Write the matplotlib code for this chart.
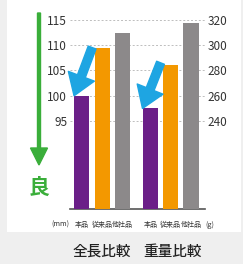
import matplotlib
matplotlib.use('Agg')
import matplotlib.pyplot as plt
from matplotlib.patches import Rectangle, FancyArrow

plt.rcParams['font.family'] = ['Noto Sans CJK JP', 'DejaVu Sans']

# data
products = ['本品', '従来品', '他社品']
length_mm = [100, 109.4, 112.3]
weight_g = [250, 284, 317.5]
length_ticks = [95, 100, 105, 110, 115]
weight_ticks = [240, 260, 280, 300, 320]
captions = ['全長比較', '重量比較']

colors = ['#6b1f88', '#f39800', '#8c898a']
arrow_blue = '#1ea5e2'
good_green = '#3aae3a'

W, H = 243, 264
fig = plt.figure(figsize=(W / 100, H / 100), dpi=100, facecolor='#efefef')

# white panel behind the chart
fig.patches.append(Rectangle((7 / W, 1 - 232 / H), 234 / W, 232 / H,
                             transform=fig.transFigure, facecolor='white',
                             edgecolor='none', zorder=-5))

ax = fig.add_axes([70 / W, 1 - 209 / H, 135 / W, 197 / H])
ax.set_facecolor('none')
ax2 = ax.twinx()

x1 = [0, 1, 2]
gap = 3.37
x2 = [x + gap for x in x1]
bw = 0.74

ax.bar(x1, length_mm, width=bw, color=colors, zorder=3)
ax2.bar(x2, weight_g, width=bw, color=colors, zorder=3)

ax.set_ylim(77.7, 116.5)
ax2.set_ylim(320 - (115 - 77.7) * 4, 320 + 1.5 * 4)
ax.set_xlim(-0.59, 6.06)

ax.set_yticks(length_ticks)
ax2.set_yticks(weight_ticks)
for a in (ax, ax2):
    a.tick_params(axis='y', length=0, pad=2, labelsize=8.5, labelcolor='#333333')
    for s in a.spines.values():
        s.set_visible(False)
ax.spines['bottom'].set_visible(True)
ax.spines['bottom'].set_color('#555555')
ax.spines['bottom'].set_linewidth(1.2)
ax.yaxis.grid(True, linestyle=(0, (2, 2)), color='#bdbdbd', linewidth=0.7, zorder=0)

ax.set_xticks(x1 + x2)
ax.set_xticklabels(products * 2)
ax.tick_params(axis='x', length=0, pad=9, labelsize=5, labelcolor='#333333')

ax.text(-0.6, -0.08, '(mm)', transform=ax.get_xaxis_transform(), ha='right',
        va='center', fontsize=5.2, color='#333333')
ax.text(6.08, -0.08, '(g)', transform=ax.get_xaxis_transform(), ha='left',
        va='center', fontsize=5.2, color='#333333')

# blue arrows pointing at the own product bars
arrow_style = 'simple,head_width=2.0,head_length=1.5,tail_width=0.6'
ax2.annotate('', xy=(-0.39, 320 - (115 - length_mm[0]) * 4), xytext=(0.5, 320 - (115 - 109.5) * 4),
             arrowprops=dict(arrowstyle=arrow_style, color=arrow_blue,
                             mutation_scale=10, shrinkA=0, shrinkB=0),
             zorder=5)
ax2.annotate('', xy=(x2[0] - 0.39, weight_g[0]), xytext=(x2[0] + 0.5, 286),
             arrowprops=dict(arrowstyle=arrow_style, color=arrow_blue,
                             mutation_scale=10, shrinkA=0, shrinkB=0),
             zorder=5)

# green "better" arrow on the left
fig.patches.append(FancyArrow(39 / W, 1 - 13 / H, 0, -(152 / H), width=3 / W,
                              head_width=17 / W, head_length=17 / H,
                              length_includes_head=True, transform=fig.transFigure,
                              color=good_green))
fig.text(39 / W, 1 - 187 / H, '良', ha='center', va='center', fontsize=15,
         fontweight='bold', color=good_green)

fig.text(102 / W, 1 - 252 / H, captions[0], ha='center', va='center', fontsize=10.5,
         fontweight='medium', color='#222222')
fig.text(173 / W, 1 - 252 / H, captions[1], ha='center', va='center', fontsize=10.5,
         fontweight='medium', color='#222222')

fig.savefig('out.png', dpi=100, facecolor=fig.get_facecolor())
